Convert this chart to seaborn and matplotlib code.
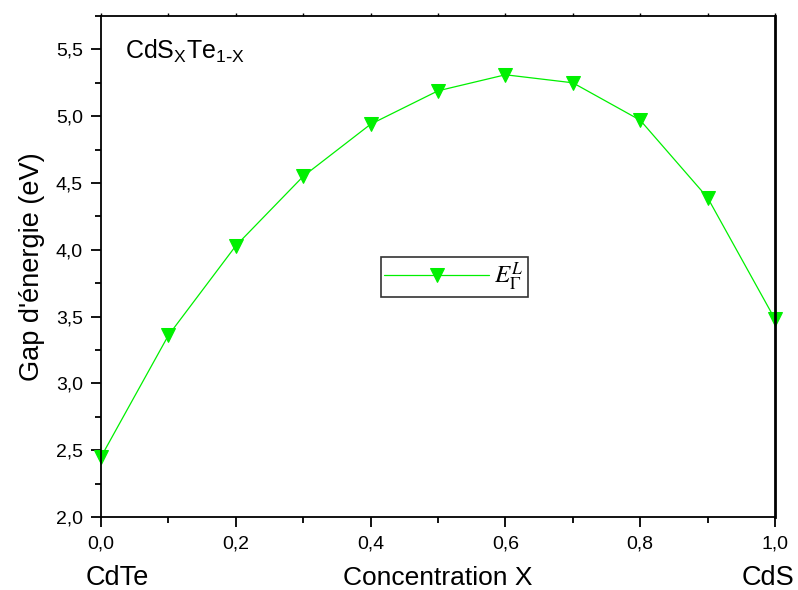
import matplotlib
matplotlib.use("Agg")
import matplotlib.pyplot as plt
from matplotlib.font_manager import FontProperties
from matplotlib.ticker import FixedLocator, MultipleLocator, NullFormatter
import seaborn as sns
import pandas as pd

# Band gap E_Gamma^L of the CdS_x Te_(1-x) alloy versus sulfur concentration
concentration = [0.0, 0.1, 0.2, 0.3, 0.4, 0.5, 0.6, 0.7, 0.8, 0.9, 1.0]
gap_ev = [2.45, 3.36, 4.03, 4.55, 4.94, 5.19, 5.31, 5.25, 4.97, 4.39, 3.48]

x_ticks = [0.0, 0.2, 0.4, 0.6, 0.8, 1.0]
x_tick_labels = ["0,0", "0,2", "0,4", "0,6", "0,8", "1,0"]
y_ticks = [2.0, 2.5, 3.0, 3.5, 4.0, 4.5, 5.0, 5.5]
y_tick_labels = ["2,0", "2,5", "3,0", "3,5", "4,0", "4,5", "5,0", "5,5"]

df = pd.DataFrame({"x": concentration, "gap": gap_ev})

sns.set_style("ticks")
plt.rcParams["font.family"] = ["Liberation Sans", "DejaVu Sans"]
plt.rcParams["text.color"] = "black"
plt.rcParams["axes.labelcolor"] = "black"
plt.rcParams["xtick.color"] = "black"
plt.rcParams["ytick.color"] = "black"

fig = plt.figure(figsize=(7.98, 5.90), dpi=100)
ax = fig.add_axes([0.1266, 0.1237, 0.8446, 0.8492])

green = "#00f000"
sns.lineplot(data=df, x="x", y="gap", ax=ax, color=green, linewidth=0.9,
             marker="v", markersize=10, markeredgecolor=green,
             markerfacecolor=green, label=r"$E_{\Gamma}^{L}$", clip_on=False)

ax.set_xlim(0.0, 1.0)
ax.set_ylim(2.0, 5.75)

ax.xaxis.set_major_locator(FixedLocator(x_ticks))
ax.set_xticklabels(x_tick_labels)
ax.xaxis.set_minor_locator(MultipleLocator(0.1))
ax.yaxis.set_major_locator(FixedLocator(y_ticks))
ax.set_yticklabels(y_tick_labels)
ax.yaxis.set_minor_locator(MultipleLocator(0.25))

ax.tick_params(axis="both", which="major", direction="out", length=7,
               width=1.3, labelsize=14, color="black", labelcolor="black",
               pad=6)
ax.tick_params(axis="both", which="minor", direction="out", length=4,
               width=1.3, color="black")

for side in ["left", "bottom", "top"]:
    ax.spines[side].set_linewidth(1.3)
    ax.spines[side].set_color("black")
ax.spines["right"].set_linewidth(2.0)
ax.spines["right"].set_color("black")
ax.spines["top"].set_visible(True)
ax.spines["right"].set_visible(True)

# Short stub ticks along the top edge
top = ax.secondary_xaxis("top")
top.xaxis.set_major_locator(MultipleLocator(0.1))
top.xaxis.set_major_formatter(NullFormatter())
top.tick_params(axis="x", which="major", direction="out", length=2,
                width=1.0, color="black")
top.spines["top"].set_visible(False)

ax.set_xlabel("Concentration X", fontsize=19, color="black", va="center")
ax.xaxis.set_label_coords(0.5, -0.122)
ax.set_ylabel("Gap d'énergie (eV)", fontsize=19.5, labelpad=8, color="black")

ax.text(0.024, -0.122, "CdTe", transform=ax.transAxes, fontsize=19.5,
        ha="center", va="center")
ax.text(0.99, -0.122, "CdS", transform=ax.transAxes, fontsize=19.5,
        ha="center", va="center")
ax.text(0.035, 0.93,
        r"CdS$_\mathregular{X}$Te$_\mathregular{1\text{-}X}$",
        transform=ax.transAxes, fontsize=18, ha="left", va="center")

leg = ax.legend(loc="center", bbox_to_anchor=(0.524, 0.479), frameon=True,
                fancybox=False, edgecolor="black", handlelength=4.2,
                borderpad=0.15, handletextpad=0.2, borderaxespad=0,
                prop=FontProperties(size=18, math_fontfamily="stix"))
leg.get_frame().set_linewidth(1.2)

fig.savefig("out.png", dpi=100)
